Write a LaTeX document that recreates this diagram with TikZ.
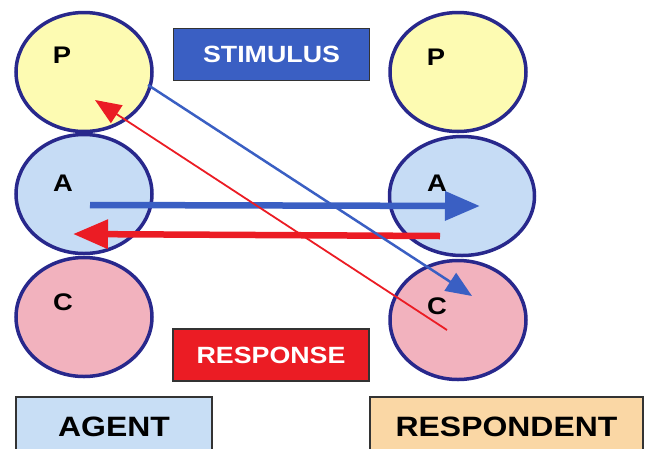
\documentclass[tikz,border=0pt]{standalone}
\usepackage{fontspec}
\setmainfont[FakeStretch=1.14]{Liberation Sans}
\usetikzlibrary{arrows.meta, shapes.geometric}

\definecolor{egoline}{RGB}{40,40,140}
\definecolor{parentfill}{RGB}{253,251,178}
\definecolor{adultfill}{RGB}{198,220,245}
\definecolor{childfill}{RGB}{242,178,190}
\definecolor{stimblue}{RGB}{58,95,195}
\definecolor{respred}{RGB}{235,28,36}
\definecolor{agentfill}{RGB}{200,222,245}
\definecolor{respondfill}{RGB}{250,215,165}

\begin{document}
\begin{tikzpicture}[
  x=1pt, y=-1pt,
  ego/.style={ellipse, draw=egoline, line width=3.5pt, minimum width=136pt,
              minimum height=119pt, inner sep=0pt},
  egoname/.style={font=\bfseries\fontsize{24}{24}\selectfont},
  tagbox/.style={draw=black!80, line width=1.2pt, minimum width=196pt,
                 minimum height=52pt, text=white, font=\bfseries\fontsize{23.5}{24}\selectfont},
  rolebox/.style={draw=black!80, line width=1.2pt, minimum height=60pt,
                  font=\bfseries\fontsize{28}{28}\selectfont},
  bigarrow/.style={-{Triangle[length=35pt, width=28pt]}, line width=6.5pt},
  slimarrow/.style={-{Triangle[length=26pt, width=21pt]}, line width=2.5pt}
]

\clip (0,0) rectangle (651,448);

% agent ego states
\node[ego, fill=parentfill] (lp) at (84,72) {};
\node[ego, fill=adultfill]  (la) at (84,194) {};
\node[ego, fill=childfill]  (lc) at (84,317) {};

% respondent ego states
\node[ego, fill=parentfill] (rp) at (458,72) {};
\node[ego, fill=adultfill, minimum width=145pt] (ra) at (462,196) {};
\node[ego, fill=childfill]  (rc) at (458,320) {};

\node[egoname] (lpt) at (62,55) {P};
\node[egoname] (lat) at (63,183) {A};
\node[egoname] (lct) at (63,302) {C};
\node[egoname] (rpt) at (436,57) {P};
\node[egoname] (rat) at (437,183) {A};
\node[egoname] (rct) at (437,306) {C};

\node[tagbox, fill=stimblue] (stim) at (271.5,54.5) {STIMULUS};
\node[tagbox, fill=respred]  (resp) at (271,355) {RESPONSE};

\node[rolebox, fill=agentfill, minimum width=196pt]   (agent) at (114,427) {AGENT};
\node[rolebox, fill=respondfill, minimum width=273pt] (respondent) at (506.5,427) {RESPONDENT};

% arrow ends
\coordinate (aa1) at (90,205);   \coordinate (aa2) at (480,206);
\coordinate (ra1) at (440,236);  \coordinate (ra2) at (73,234);
\coordinate (pc1) at (148,85);   \coordinate (pc2) at (472,296);
\coordinate (cp1) at (447,330);  \coordinate (cp2) at (95,100);

\draw[bigarrow, stimblue] (aa1) -- (aa2);
\draw[bigarrow, respred] (ra1) -- (ra2);
\draw[slimarrow, stimblue] (pc1) -- (pc2);
\draw[slimarrow, respred, line width=1.8pt] (cp1) -- (cp2);

\end{tikzpicture}
\end{document}
